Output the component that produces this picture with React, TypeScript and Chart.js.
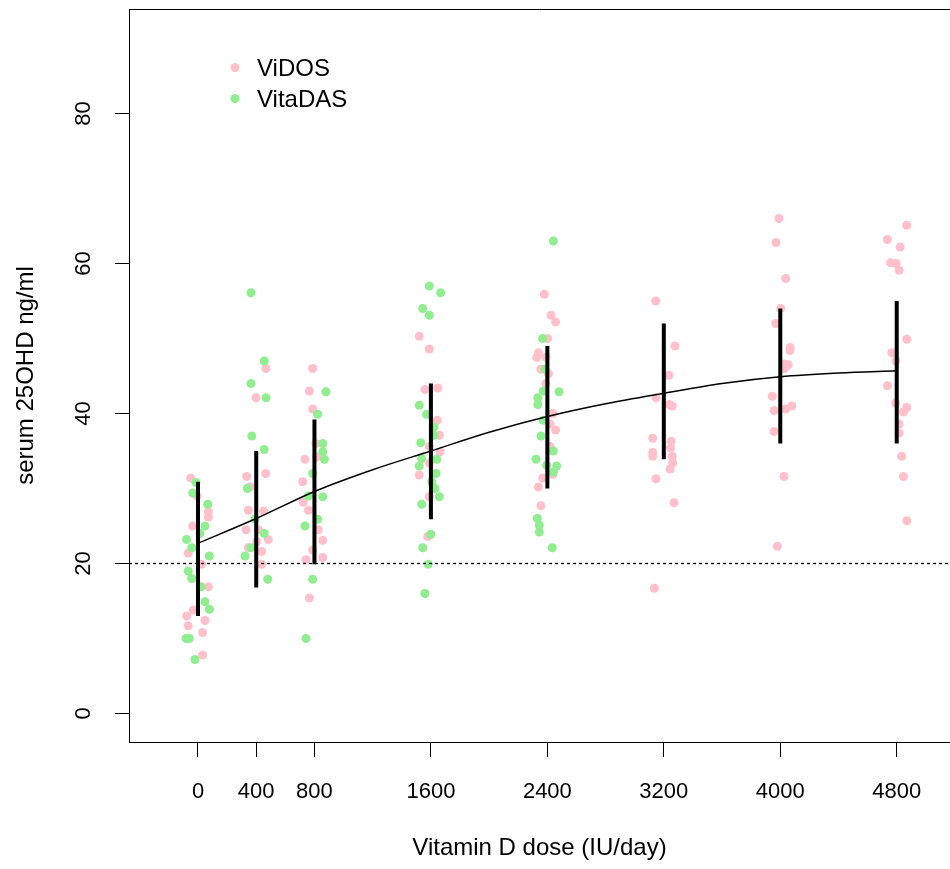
import React, { useEffect, useRef } from "react";
import { Chart, registerables } from "chart.js";

Chart.register(...registerables);

const FONT = '"Liberation Sans", Arial, Helvetica, sans-serif';

const xTicks = [0, 400, 800, 1600, 2400, 3200, 4000, 4800];
const yTicks = [0, 20, 40, 60, 80];
const xMin = -474;
const xMax = 5166;
const yMin = -3.8;
const yMax = 93.93;
const refLevel = 20;

const seriesNames = ["ViDOS", "VitaDAS"];
const seriesColors = ["#FFC0CB", "#90EE90"];

// ViDOS (pink) points: jittered dose, serum level
const vidosDose = [
  -50, -5, 71, 71, -36, -67, 25, 71, -32, -78, -67, 48, 32, 32,
  335, 465, 357, 346, 449, 330, 414, 483, 403, 346, 438, 438, 467, 398,
  809, 735, 815, 719, 723, 758, 826, 857, 788, 742, 857, 765, 788, 765, 788,
  1520, 1589, 1559, 1647, 1644, 1658, 1589, 1663, 1589, 1520, 1589, 1578,
  2379, 2425, 2457, 2402, 2338, 2327, 2391, 2356, 2407, 2391, 2437, 2418, 2457, 2418, 2437, 2368, 2338, 2356,
  3144, 3277, 3236, 3146, 3238, 3258, 3124, 3250, 3247, 3124, 3124, 3258, 3261, 3243, 3146, 3270, 3135,
  3991, 3971, 4037, 4003, 3969, 4067, 4067, 4026, 4055, 4028, 3945, 3957, 4037, 4079, 3957, 4026, 3980,
  4869, 4736, 4823, 4759, 4795, 4816, 4869, 4766, 4795, 4736, 4793, 4869, 4846, 4816, 4816, 4834, 4846, 4869,
];
const vidosLevel = [
  31.4, 29.0, 26.9, 26.2, 25.0, 21.4, 19.9, 16.9, 13.8, 13.0, 11.7, 12.4, 10.8, 7.8,
  31.6, 32.0, 30.2, 27.1, 27.0, 24.5, 24.5, 23.2, 22.9, 22.1, 21.6, 19.9, 46.0, 42.1,
  36.0, 33.9, 34.2, 30.9, 28.2, 27.1, 24.5, 23.1, 21.8, 20.5, 20.8, 15.4, 46.0, 43.0, 40.6,
  50.3, 48.6, 43.2, 43.4, 39.1, 37.1, 35.6, 34.9, 33.4, 31.8, 28.9, 23.6,
  55.9, 53.1, 52.2, 50.0, 48.1, 47.5, 47.5, 45.9, 45.3, 44.0, 40.0, 38.6, 37.8, 35.6, 31.9, 31.4, 30.2, 27.7,
  55.0, 49.0, 45.1, 42.1, 41.2, 41.0, 36.7, 36.3, 35.4, 34.8, 34.3, 34.3, 33.4, 32.6, 31.3, 28.1, 16.7,
  66.0, 62.8, 58.0, 54.0, 52.0, 48.8, 48.4, 46.6, 46.5, 46.0, 42.3, 40.4, 40.6, 41.0, 37.6, 31.6, 22.3,
  65.1, 63.2, 62.2, 60.1, 60.0, 59.1, 49.9, 48.1, 47.0, 43.7, 41.4, 40.8, 40.2, 38.6, 37.4, 34.3, 31.6, 25.7,
];

// VitaDAS (green) points
const vitadasDose = [
  -14, -36, 67, 48, 14, -78, -43, 78, -67, -43, 21, 48, 78, -60, -82, -21,
  369, 455, 339, 392, 455, 364, 323, 479, 364, 455, 364, 467,
  857, 857, 868, 788, 758, 857, 822, 735, 788, 742, 879, 822,
  1589, 1667, 1544, 1589, 1520, 1571, 1621, 1621, 1530, 1537, 1640, 1520, 1635, 1606, 1628, 1658, 1537, 1599, 1544, 1582, 1559,
  2441, 2368, 2384, 2372, 2480, 2334, 2334, 2372, 2356, 2441, 2322, 2395, 2464, 2441, 2331, 2345, 2345, 2434,
];
const vitadasLevel = [
  30.8, 29.4, 27.9, 25.0, 24.0, 23.2, 22.1, 21.0, 19.0, 18.0, 16.9, 14.9, 13.9, 10.0, 10.0, 7.2,
  37.0, 35.2, 30.0, 25.9, 24.0, 22.1, 21.0, 17.9, 56.1, 47.0, 44.0, 42.1,
  36.0, 34.9, 33.9, 32.0, 29.0, 28.9, 25.9, 25.0, 17.9, 10.0, 42.9, 39.9,
  57.0, 56.1, 54.0, 53.1, 41.1, 39.9, 38.2, 37.1, 36.1, 34.0, 33.9, 33.0, 32.0, 30.9, 30.0, 28.9, 27.9, 23.9, 22.1, 19.9, 16.0,
  63.0, 50.0, 45.9, 43.0, 42.9, 42.1, 41.2, 39.1, 37.0, 35.0, 33.9, 33.1, 33.0, 32.2, 26.0, 25.1, 24.2, 22.1,
];

// mean ± SD bars per dose group
const barDose = [0, 400, 800, 1600, 2400, 3200, 4000, 4800];
const barLow = [13.0, 16.8, 19.9, 25.9, 30.0, 33.9, 36.0, 36.0];
const barHigh = [30.9, 35.0, 39.2, 44.0, 49.0, 52.0, 54.0, 55.0];

// fitted curve
const curveDose = [0, 400, 800, 1200, 1600, 2000, 2400, 2800, 3200, 3600, 4000, 4400, 4800];
const curveLevel = [22.7, 26.0, 29.6, 32.5, 35.0, 37.5, 39.6, 41.3, 42.7, 44.0, 44.9, 45.4, 45.7];

const xTitle = "Vitamin D dose (IU/day)";
const yTitle = "serum 25OHD ng/ml";

const decorPlugin = {
  id: "decor",
  afterDraw(chart: any) {
    const { ctx, chartArea } = chart;
    const ys = chart.scales.y;
    ctx.save();
    // top border of the box
    ctx.strokeStyle = "#000";
    ctx.lineWidth = 1;
    ctx.beginPath();
    const ty = Math.round(chartArea.top) + 0.5;
    ctx.moveTo(chartArea.left, ty);
    ctx.lineTo(chartArea.right, ty);
    ctx.stroke();

    // rotated y tick labels
    ctx.fillStyle = "#000";
    ctx.font = `22px ${FONT}`;
    ctx.textAlign = "center";
    ctx.textBaseline = "middle";
    yTicks.forEach((v) => {
      const py = ys.getPixelForValue(v);
      ctx.save();
      ctx.translate(chartArea.left - 45, py);
      ctx.rotate(-Math.PI / 2);
      ctx.fillText(String(v), 0, 0);
      ctx.restore();
    });

    // legend
    ctx.font = `24px ${FONT}`;
    ctx.textAlign = "left";
    seriesNames.forEach((name, i) => {
      const cy = chartArea.top + 58.5 + i * 31;
      ctx.fillStyle = seriesColors[i];
      ctx.beginPath();
      ctx.arc(chartArea.left + 106, cy, 4.5, 0, Math.PI * 2);
      ctx.fill();
      ctx.fillStyle = "#000";
      ctx.fillText(name, chartArea.left + 128, cy + 1.5);
    });
    ctx.restore();
  },
};

export default function App() {
  const ref = useRef<HTMLCanvasElement | null>(null);

  useEffect(() => {
    if (!ref.current) return;
    const barData: any[] = [];
    barDose.forEach((d, i) => {
      barData.push({ x: d, y: barLow[i] });
      barData.push({ x: d, y: barHigh[i] });
      barData.push({ x: d, y: null });
    });
    const chart = new Chart(ref.current, {
      type: "scatter",
      data: {
        datasets: [
          {
            type: "line",
            label: "fit",
            data: curveDose.map((d, i) => ({ x: d, y: curveLevel[i] })),
            borderColor: "#000",
            borderWidth: 1.5,
            pointRadius: 0,
            cubicInterpolationMode: "monotone",
            fill: false,
            order: 0,
          } as any,
          {
            type: "line",
            label: "sd",
            data: barData,
            borderColor: "#000",
            borderWidth: 4,
            borderCapStyle: "butt",
            pointRadius: 0,
            spanGaps: false,
            fill: false,
            order: 1,
          } as any,
          {
            type: "line",
            label: "ref",
            data: [
              { x: xMin, y: refLevel },
              { x: xMax, y: refLevel },
            ],
            borderColor: "#000",
            borderWidth: 1.3,
            borderDash: [3, 3],
            pointRadius: 0,
            fill: false,
            order: 2,
          } as any,
          {
            label: seriesNames[1],
            data: vitadasDose.map((d, i) => ({ x: d, y: vitadasLevel[i] })),
            backgroundColor: seriesColors[1],
            borderWidth: 0,
            pointRadius: 4.5,
            order: 3,
          },
          {
            label: seriesNames[0],
            data: vidosDose.map((d, i) => ({ x: d, y: vidosLevel[i] })),
            backgroundColor: seriesColors[0],
            borderWidth: 0,
            pointRadius: 4.5,
            order: 4,
          },
        ],
      },
      options: {
        animation: false,
        responsive: false,
        maintainAspectRatio: false,
        devicePixelRatio: 1,
        layout: { autoPadding: false, padding: { top: 9, left: 0, right: 0, bottom: 0 } },
        plugins: {
          legend: { display: false },
          tooltip: { enabled: false },
        },
        scales: {
          x: {
            type: "linear",
            min: xMin,
            max: xMax,
            afterBuildTicks: (s: any) => {
              s.ticks = xTicks.map((v) => ({ value: v }));
            },
            afterFit: (s: any) => {
              s.height = 127;
            },
            ticks: {
              color: "#000",
              font: { family: FONT, size: 22 },
              padding: 22,
              maxRotation: 0,
              autoSkip: false,
              callback: (v: any) => String(v),
            },
            grid: {
              drawOnChartArea: false,
              drawTicks: true,
              tickLength: 15,
              tickColor: "#000",
              color: "#000",
            },
            border: { display: true, color: "#000", width: 1 },
            title: {
              display: true,
              text: xTitle,
              color: "#000",
              font: { family: FONT, size: 24 },
              padding: { top: 0, bottom: 6 },
            },
          },
          y: {
            type: "linear",
            min: yMin,
            max: yMax,
            afterBuildTicks: (s: any) => {
              s.ticks = yTicks.map((v) => ({ value: v }));
            },
            afterFit: (s: any) => {
              s.width = 129;
            },
            ticks: { display: false },
            grid: {
              drawOnChartArea: false,
              drawTicks: true,
              tickLength: 14,
              tickColor: "#000",
              color: "#000",
            },
            border: { display: true, color: "#000", width: 1 },
            title: {
              display: true,
              text: yTitle,
              color: "#000",
              font: { family: FONT, size: 24 },
              padding: { top: 12, bottom: 0 },
            },
          },
        },
      } as any,
      plugins: [decorPlugin],
    });
    return () => chart.destroy();
  }, []);

  return (
    <div
      style={{
        position: "fixed",
        left: 0,
        top: 0,
        width: 950,
        height: 869,
        overflow: "hidden",
        background: "#fff",
      }}
    >
      <canvas ref={ref} width={950} height={869} style={{ display: "block" }} />
    </div>
  );
}
